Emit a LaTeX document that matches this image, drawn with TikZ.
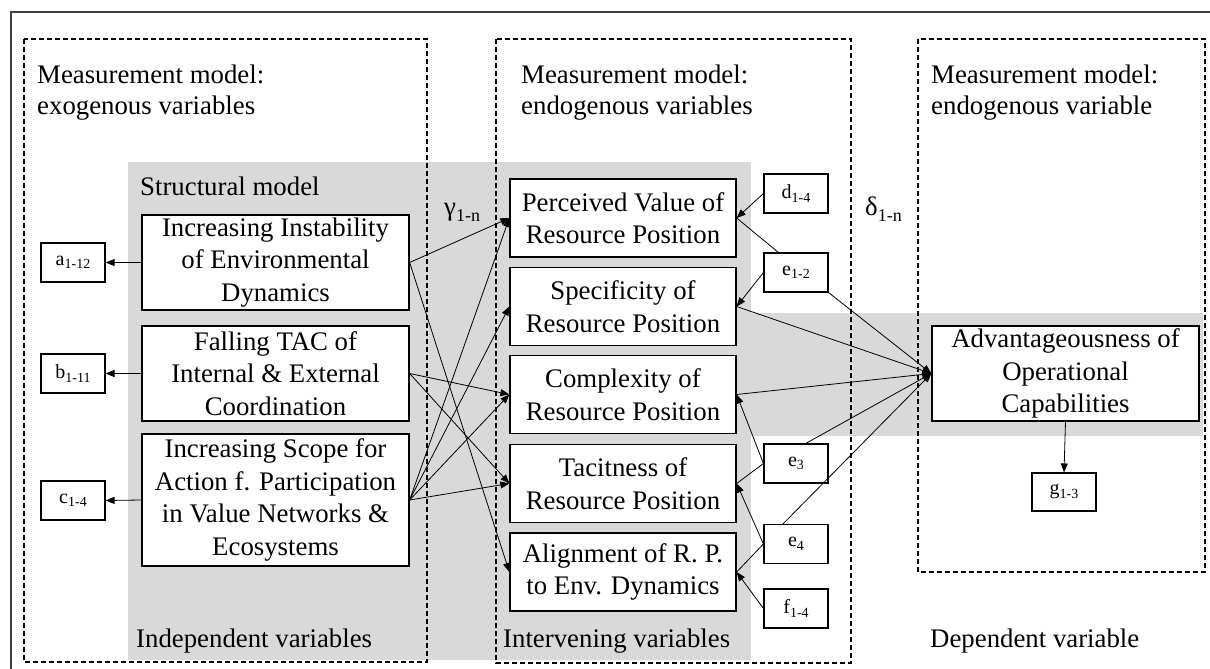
\documentclass[tikz,border=0pt]{standalone}
\usepackage{fontspec}
\setmainfont{Liberation Serif}
\usetikzlibrary{arrows.meta,calc}

% lowered index: size, drop, text
\newcommand{\dsub}[3]{\raisebox{-#2pt}{\fontsize{#1}{#1}\selectfont #3}}

\definecolor{panelgray}{RGB}{217,217,217}
\definecolor{framegray}{RGB}{64,64,64}

\begin{document}
\begin{tikzpicture}[x=1pt,y=-1pt,
  txt/.style={font=\fontsize{26.8}{32.5}\selectfont, inner sep=0pt},
  latent/.style={draw, line width=1.3pt, fill=white, align=center,
    minimum height=95pt, inner sep=0pt, font=\fontsize{26.8}{32.5}\selectfont},
  leftbox/.style={latent, minimum width=267pt},
  midbox/.style={latent, minimum width=226pt, minimum height=78pt},
  indic/.style={draw, line width=1.1pt, fill=white, minimum width=64pt,
    minimum height=39pt, inner sep=0pt, font=\fontsize{20}{24}\selectfont},
  conn/.style={line width=0.8pt, -{Triangle[length=9pt,width=7pt]}},
  plain/.style={line width=0.8pt},
  dbox/.style={line width=1.1pt, dash pattern=on 5pt off 3pt},
]
\useasboundingbox (0,0) rectangle (1210,669);

% shaded regions: structural model and dependent-variable band
\fill[panelgray] (128,162) rectangle (751,660);
\fill[panelgray] (751,313) rectangle (1203,436);

% outer frame (open to the right and bottom)
\draw[framegray, line width=1.5pt] (1210,12) -- (11,12) -- (11,669);

% measurement model frames
\draw[dbox] (24,39) rectangle (427,662);
\draw[dbox] (496,39) rectangle (851,663);
\draw[dbox] (918,39) rectangle (1205,572);

% headings
\node[txt, anchor=base west] (h1a) at (37,83) {Measurement model:};
\node[txt, anchor=base west] (h1b) at (37,114.5) {exogenous variables};
\node[txt, anchor=base west] (h2a) at (521,83) {Measurement model:};
\node[txt, anchor=base west] (h2b) at (521,114.5) {endogenous variables};
\node[txt, anchor=base west] (h3a) at (931,83) {Measurement model:};
\node[txt, anchor=base west] (h3b) at (931,114.5) {endogenous variable};
\node[txt, anchor=base west] (sm) at (140,195) {Structural model};

\node[txt, anchor=base west] (f1) at (136,647) {Independent variables};
\node[txt, anchor=base west] (f2) at (503,647) {Intervening variables};
\node[txt, anchor=base west] (f3) at (930,647) {Dependent variable};

\node[txt, anchor=base west] (gam) at (444,215) {γ\dsub{18}{6.5}{1-n}};
\node[txt, anchor=base west] (del) at (865,215) {δ\dsub{18}{6.5}{1-n}};

% exogenous constructs
\node[leftbox] (I1) at (275.5,262.5) {Increasing Instability\\of Environmental\\Dynamics};
\node[leftbox] (I2) at (275.5,373.5) {Falling TAC of\\Internal \& External\\Coordination};
\node[leftbox, minimum height=132pt] (I3) at (275.5,500) {Increasing Scope for\\Action f. Participation\\in Value Networks \&\\Ecosystems};

\node[indic] (a) at (73,262.5) {a\dsub{14}{3.5}{1-12}};
\node[indic] (b) at (73,373.5) {b\dsub{14}{3.5}{1-11}};
\node[indic] (c) at (73,500.5) {c\dsub{14}{3.5}{1-4}};

% intervening constructs
\node[midbox] (M1) at (623,218) {Perceived Value of\\Resource Position};
\node[midbox] (M2) at (623,306.5) {Specificity of\\Resource Position};
\node[midbox] (M3) at (623,394.5) {Complexity of\\Resource Position};
\node[midbox] (M4) at (623,483.5) {Tacitness of\\Resource Position};
\node[midbox] (M5) at (623,572) {Alignment of R. P.\\to Env. Dynamics};

\node[indic] (d) at (796,193.5) {d\dsub{14}{3.5}{1-4}};
\node[indic] (e12) at (796,272.5) {e\dsub{14}{3.5}{1-2}};
\node[indic] (e3) at (796,463.5) {e\dsub{14}{3.5}{3}};
\node[indic] (e4) at (796,544) {e\dsub{14}{3.5}{4}};
\node[indic] (f) at (796,608.5) {f\dsub{14}{3.5}{1-4}};

% dependent construct
\node[leftbox] (Adv) at (1065.5,373.5) {Advantageousness of\\Operational\\Capabilities};
\node[indic, minimum height=38pt] (g) at (1064,492) {g\dsub{14}{3.5}{1-3}};

% measurement links
\draw[conn] (I1.west) -- (a.east);
\draw[conn] (I2.west) -- (b.east);
\draw[conn] (I3.west) -- (c.east);
\draw[conn] (Adv.south) -- (g.north);

% structural paths (gamma)
\draw[conn] (I1.east) -- (M1.west);
\draw[conn] (I1.east) -- (M5.west);
\draw[conn] (I2.east) -- (M3.west);
\draw[conn] (I2.east) -- (M4.west);
\draw[conn] (I3.east) -- (M1.west);
\draw[conn] (I3.east) -- (M2.west);
\draw[conn] (I3.east) -- (M3.west);
\draw[conn] (I3.east) -- (M4.west);

% indicators of the intervening constructs
\draw[conn] (d.west) -- (M1.east);
\draw[plain] ($(e12.north west)!0.23!(e12.north east)$) -- (M1.east);
\draw[conn] (e12.west) -- (M2.east);
\draw[conn] (e3.west) -- (M3.east);
\draw[plain] (e3.west) -- (M4.east);
\draw[conn] (e4.west) -- (M4.east);
\draw[plain] (e4.west) -- (M5.east);
\draw[conn] (f.west) -- (M5.east);

% structural paths (delta)
\draw[conn] (M2.east) -- (Adv.west);
\draw[conn] (M3.east) -- (Adv.west);
\draw[conn] (e12.south east) -- (Adv.west);
\draw[conn] ($(e3.north west)!0.65!(e3.north east)$) -- (Adv.west);
\draw[conn] ($(e4.north west)!0.3!(e4.north east)$) -- (Adv.west);
\end{tikzpicture}
\end{document}
